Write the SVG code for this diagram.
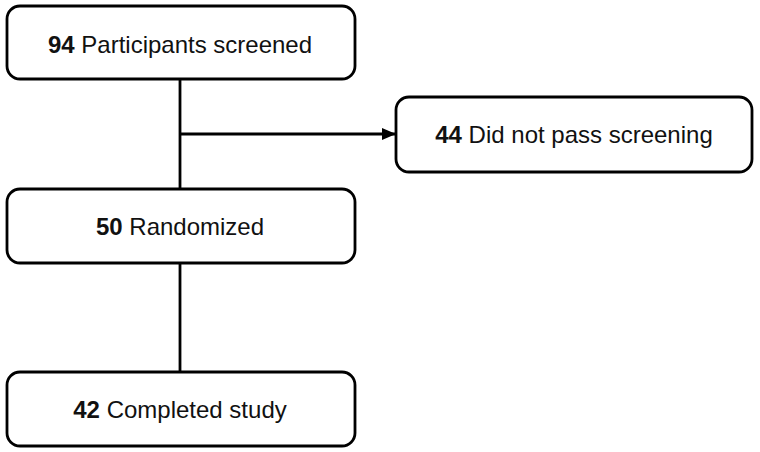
<svg xmlns="http://www.w3.org/2000/svg" width="760" height="452" viewBox="0 0 760 452">
<style>
.box{fill:#fff;stroke:#000;stroke-width:2.8}
.t{font-family:"Liberation Sans",Arial,sans-serif;font-size:24px;fill:#111;text-anchor:middle}
.b{font-weight:bold}
.c{stroke:#000;stroke-width:2.8;fill:none}
</style>
<defs>
<marker id="ah" markerWidth="14" markerHeight="14" refX="13" refY="7" orient="auto" markerUnits="userSpaceOnUse">
<path d="M0,1 L14,7 L0,13 z" fill="#000"/>
</marker>
</defs>
<rect width="760" height="452" fill="#fff"/>
<g id="connectors">
<line class="c" x1="180" y1="79" x2="180" y2="189"/>
<line class="c" x1="180" y1="134" x2="395" y2="134" marker-end="url(#ah)"/>
<line class="c" x1="180" y1="263" x2="180" y2="372"/>
</g>
<g id="n1">
<rect class="box" x="7" y="6" width="348" height="73" rx="13"/>
<text class="t" x="180" y="53"><tspan class="b">94</tspan> Participants screened</text>
</g>
<g id="n2">
<rect class="box" x="396" y="97" width="356" height="75" rx="13"/>
<text class="t" x="574" y="143"><tspan class="b">44</tspan> Did not pass screening</text>
</g>
<g id="n3">
<rect class="box" x="7" y="189" width="348" height="74" rx="13"/>
<text class="t" x="180" y="235"><tspan class="b">50</tspan> Randomized</text>
</g>
<g id="n4">
<rect class="box" x="7" y="372" width="348" height="74" rx="13"/>
<text class="t" x="180" y="418"><tspan class="b">42</tspan> Completed study</text>
</g>
</svg>
